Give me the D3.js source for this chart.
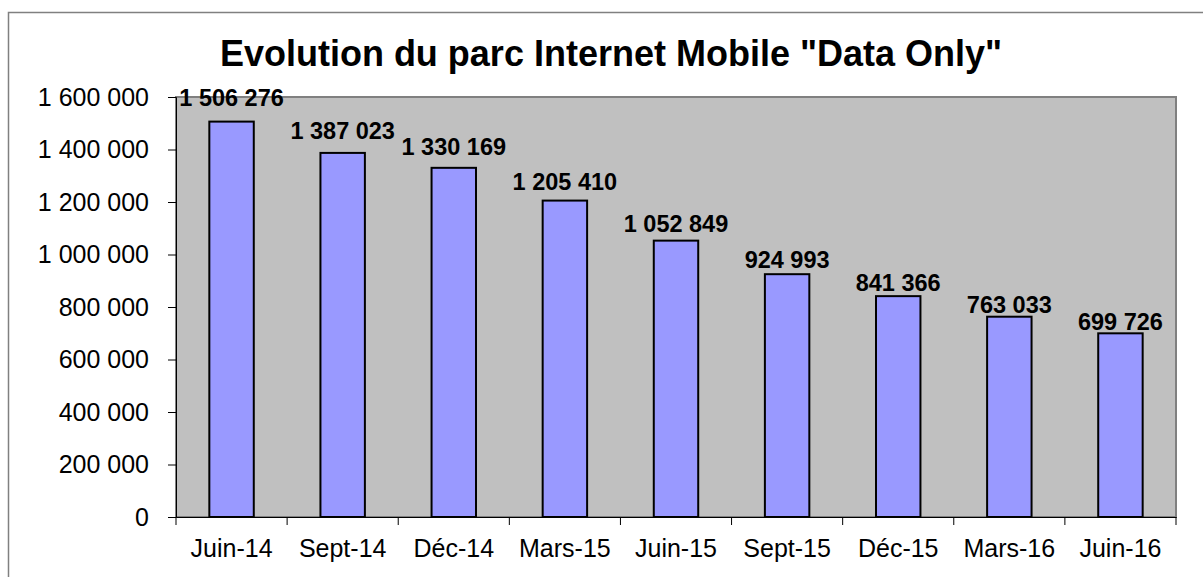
<!DOCTYPE html>
<html>
<head>
<meta charset="utf-8">
<script src="https://cdn.jsdelivr.net/npm/d3@7"></script>
<style>
    body { margin: 0; background: #fff; }
    text { font-family: Arial, "Liberation Sans", sans-serif; fill: #000; }
</style>
</head>
<body>
<div id="chart"></div>
<script>
'use strict';

const categories = ['Juin-14', 'Sept-14', 'Déc-14', 'Mars-15', 'Juin-15', 'Sept-15', 'Déc-15', 'Mars-16', 'Juin-16'];
const values = [1506276, 1387023, 1330169, 1205410, 1052849, 924993, 841366, 763033, 699726];
const yTicks = [0, 200000, 400000, 600000, 800000, 1000000, 1200000, 1400000, 1600000];
const title = 'Evolution du parc Internet Mobile "Data Only"';

const width = 1203, height = 577;
const plot = { left: 176, top: 97, right: 1176, bottom: 517 };

// french style thousands: "1 506 276"
const fmt = v => d3.format(',')(v).replace(/,/g, ' ');

const svg = d3.select('#chart')
    .append('svg')
    .attr('width', width)
    .attr('height', height);

// outer chart border (right and bottom run off the picture)
svg.append('rect')
    .attr('x', 8.5).attr('y', 12.5)
    .attr('width', width).attr('height', height)
    .attr('fill', '#fff')
    .attr('stroke', '#808080')
    .attr('stroke-width', 1.5);

svg.append('text')
    .attr('x', 611).attr('y', 66)
    .attr('text-anchor', 'middle')
    .style('font-size', '36px')
    .style('font-weight', 'bold')
    .text(title);

const x = d3.scaleBand()
    .domain(categories)
    .range([plot.left, plot.right])
    .paddingInner(0.6)
    .paddingOuter(0.3);

const xEdges = d3.scaleBand().domain(categories).range([plot.left, plot.right]);

const y = d3.scaleLinear()
    .domain([0, 1600000])
    .range([plot.bottom, plot.top]);

// plot area
svg.append('rect')
    .attr('x', plot.left).attr('y', plot.top)
    .attr('width', plot.right - plot.left)
    .attr('height', plot.bottom - plot.top)
    .attr('fill', '#c0c0c0')
    .attr('stroke', '#808080')
    .attr('stroke-width', 2);

svg.selectAll('rect.bar')
    .data(values)
    .join('rect')
    .classed('bar', true)
    .attr('x', (d, i) => x(categories[i]))
    .attr('y', d => y(d))
    .attr('width', x.bandwidth())
    .attr('height', d => y(0) - y(d))
    .attr('fill', '#9999ff')
    .attr('stroke', '#000')
    .attr('stroke-width', 2);

svg.selectAll('text.label')
    .data(values)
    .join('text')
    .classed('label', true)
    .attr('x', (d, i) => x(categories[i]) + x.bandwidth() / 2)
    .attr('y', d => y(d * 1.06) + 8)
    .attr('text-anchor', 'middle')
    .style('font-size', '23.5px')
    .style('font-weight', 'bold')
    .text(d => fmt(d));

// y axis
const yAxis = svg.append('g')
    .attr('transform', `translate(${plot.left},0)`)
    .call(d3.axisLeft(y).tickValues(yTicks).tickSize(8).tickPadding(19).tickFormat(fmt));
yAxis.select('.domain').attr('stroke', '#000').attr('stroke-width', 1);
yAxis.selectAll('.tick line').attr('stroke', '#000');
yAxis.selectAll('.tick text').style('font-size', '25px').attr('fill', '#000');

// x axis, ticks on category edges
const xAxis = svg.append('g')
    .attr('transform', `translate(0,${plot.bottom})`)
    .call(d3.axisBottom(xEdges).tickSize(0).tickPadding(22));
xAxis.select('.domain').attr('stroke', '#000');
xAxis.selectAll('.tick text').style('font-size', '25px').attr('fill', '#000');
xAxis.selectAll('line.edge')
    .data(categories.concat(['end']))
    .join('line')
    .classed('edge', true)
    .attr('x1', (d, i) => plot.left + i * xEdges.step())
    .attr('x2', (d, i) => plot.left + i * xEdges.step())
    .attr('y1', 0).attr('y2', 8)
    .attr('stroke', '#000');
</script>
</body>
</html>
